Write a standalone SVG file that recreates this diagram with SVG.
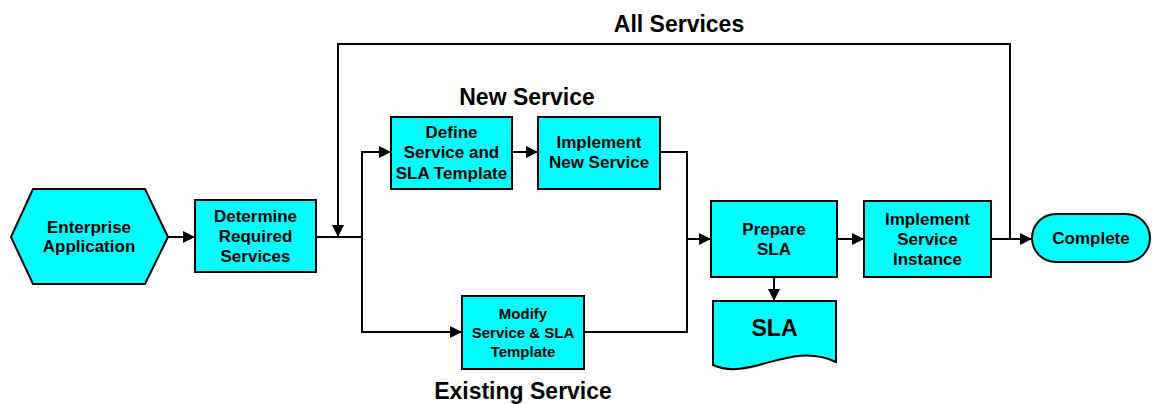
<svg xmlns="http://www.w3.org/2000/svg" width="1152" height="404" viewBox="0 0 1152 404">
  <style>
    .shape { fill: #00ffff; stroke: #000; stroke-width: 2; }
    .wire { fill: none; stroke: #000; stroke-width: 2; }
    .lbl { font-family: "Liberation Sans", Arial, sans-serif; font-weight: bold; font-size: 17px; text-anchor: middle; fill: #000; }
    .small { font-size: 15px; }
    .title { font-family: "Liberation Sans", Arial, sans-serif; font-weight: bold; font-size: 23px; text-anchor: middle; fill: #000; }
  </style>
  <defs>
    <marker id="arrow" markerUnits="userSpaceOnUse" markerWidth="12" markerHeight="12" refX="12" refY="6" orient="auto">
      <path d="M0,0 L12,6 L0,12 z" fill="#000"/>
    </marker>
  </defs>
  <rect width="1152" height="404" fill="#fff"/>

  <!-- section titles -->
  <text class="title" x="679" y="32">All Services</text>
  <text class="title" x="527" y="105">New Service</text>
  <text class="title" x="523" y="399">Existing Service</text>

  <!-- connectors -->
  <g id="connectors">
    <path class="wire" d="M168,237 H195" marker-end="url(#arrow)"/>
    <path class="wire" d="M316,237 H362"/>
    <path class="wire" d="M362,237 V152 H391" marker-end="url(#arrow)"/>
    <path class="wire" d="M362,237 V332 H462" marker-end="url(#arrow)"/>
    <path class="wire" d="M512,152 H538" marker-end="url(#arrow)"/>
    <path class="wire" d="M660,152 H687 V332 H584"/>
    <path class="wire" d="M687,239 H711" marker-end="url(#arrow)"/>
    <path class="wire" d="M837,239 H864" marker-end="url(#arrow)"/>
    <path class="wire" d="M991,239 H1032" marker-end="url(#arrow)"/>
    <path class="wire" d="M1010,239 V44 H338 V237" marker-end="url(#arrow)"/>
    <path class="wire" d="M774,277 V301" marker-end="url(#arrow)"/>
  </g>

  <g id="enterprise-application">
    <polygon class="shape" points="11,237 33,189 145,189 168,237 145,284 33,284"/>
    <text class="lbl" x="89" y="233">Enterprise</text>
    <text class="lbl" x="89" y="252">Application</text>
  </g>

  <g id="determine-required-services">
    <rect class="shape" x="195" y="200" width="121" height="72"/>
    <text class="lbl" x="255.5" y="222">Determine</text>
    <text class="lbl" x="255.5" y="242">Required</text>
    <text class="lbl" x="255.5" y="262">Services</text>
  </g>

  <g id="define-service">
    <rect class="shape" x="391" y="117" width="121" height="72"/>
    <text class="lbl" x="451.5" y="138">Define</text>
    <text class="lbl" x="451.5" y="158">Service and</text>
    <text class="lbl" x="451.5" y="179">SLA Template</text>
  </g>

  <g id="implement-new-service">
    <rect class="shape" x="538" y="117" width="122" height="72"/>
    <text class="lbl" x="599" y="148">Implement</text>
    <text class="lbl" x="599" y="168">New Service</text>
  </g>

  <g id="modify-service">
    <rect class="shape" x="462" y="296" width="122" height="73"/>
    <text class="lbl small" x="523" y="319">Modify</text>
    <text class="lbl small" x="523" y="338">Service &amp; SLA</text>
    <text class="lbl small" x="523" y="357">Template</text>
  </g>

  <g id="prepare-sla">
    <rect class="shape" x="711" y="201" width="126" height="76"/>
    <text class="lbl" x="774" y="235">Prepare</text>
    <text class="lbl" x="774" y="255">SLA</text>
  </g>

  <g id="sla-document">
    <path class="shape" d="M713,301 H836 V362 C790,340 750,382 713,365 Z"/>
    <text class="lbl" style="font-size:23px" x="774.5" y="336">SLA</text>
  </g>

  <g id="implement-service-instance">
    <rect class="shape" x="864" y="201" width="127" height="76"/>
    <text class="lbl" x="927.5" y="225">Implement</text>
    <text class="lbl" x="927.5" y="245">Service</text>
    <text class="lbl" x="927.5" y="265">Instance</text>
  </g>

  <g id="complete">
    <rect class="shape" x="1032" y="214" width="118" height="48" rx="24" ry="24"/>
    <text class="lbl" x="1091" y="244">Complete</text>
  </g>
</svg>
